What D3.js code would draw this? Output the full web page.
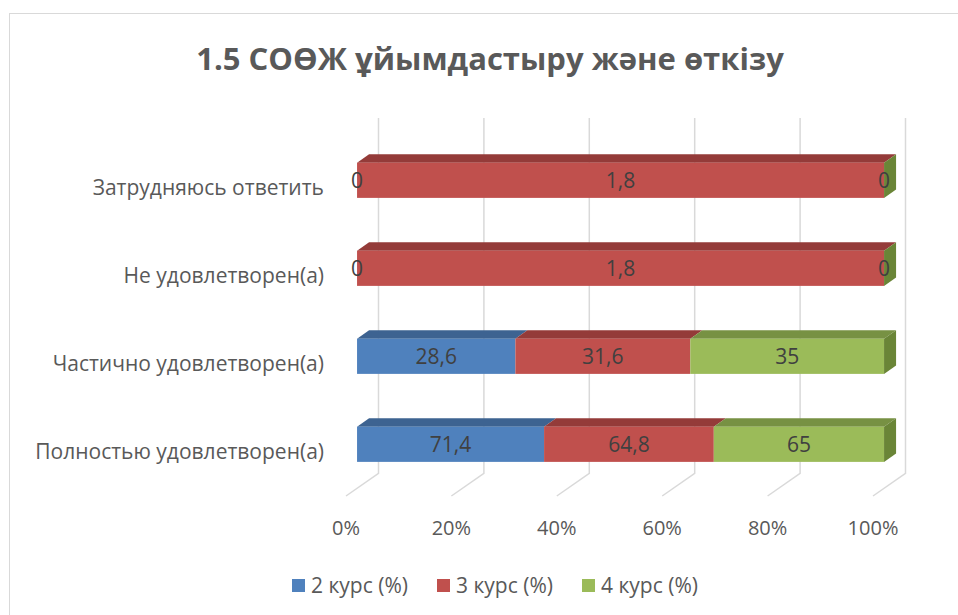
<!DOCTYPE html>
<html>
<head>
<meta charset="utf-8">
<script src="https://cdn.jsdelivr.net/npm/d3@7"></script>
<style>
  body { margin: 0; background: #fff; }
  text { font-family: "Open Sans", "Noto Sans", sans-serif; }
</style>
</head>
<body>
<div id="chart"></div>
<script>
// chart data
const categories = ['Затрудняюсь ответить', 'Не удовлетворен(а)', 'Частично удовлетворен(а)', 'Полностью удовлетворен(а)'];
const seriesNames = ['2 курс (%)', '3 курс (%)', '4 курс (%)'];
const course2 = [0, 0, 28.6, 71.4];
const course3 = [1.8, 1.8, 31.6, 64.8];
const course4 = [0, 0, 35, 65];
const tickValues = [0, 0.2, 0.4, 0.6, 0.8, 1];

const width = 958;
const height = 615;

// colours: front, top, side
const colors = [
    {front: '#4F81BD', top: '#3D6391', side: '#365A86'},
    {front: '#C0504D', top: '#943B39', side: '#8A3836'},
    {front: '#9BBB59', top: '#779143', side: '#6A8537'}
];

// depth of the 3d box (front floor -> back wall)
const DX = 32.5;
const DY = -22.7;
const t0 = 0.34, t1 = 0.71;

const svg = d3.select('#chart')
    .append('svg')
    .attr('width', width)
    .attr('height', height);

// chart border
svg.append('rect')
    .attr('x', 9.5).attr('y', 13.5)
    .attr('width', 960).attr('height', 610)
    .attr('fill', 'none')
    .attr('stroke', '#D9D9D9');

// title
svg.append('text')
    .attr('x', 490).attr('y', 70)
    .attr('text-anchor', 'middle')
    .attr('font-size', '31px')
    .attr('font-weight', 'bold')
    .attr('fill', '#595959')
    .text('1.5 СОӨЖ ұйымдастыру және өткізу');

const xScale = d3.scaleLinear()
    .domain([0, 1])
    .range([346, 873]);

const yScale = d3.scaleBand()
    .domain(categories)
    .range([144, 496])
    .paddingInner(0.6)
    .paddingOuter(0.3);

const floorY = 496;
const wallTop = 118;

// gridlines: back wall + floor
const grid = svg.append('g');
tickValues.forEach(function(v) {
    const px = xScale(v);
    grid.append('path')
        .attr('d', `M${px + DX},${wallTop} L${px + DX},${floorY + DY} L${px},${floorY}`)
        .attr('fill', 'none')
        .attr('stroke', '#D9D9D9')
        .attr('stroke-width', 1.5);
});

// tick labels
svg.selectAll('.tick-label')
    .data(tickValues)
    .enter()
    .append('text')
    .attr('class', 'tick-label')
    .attr('x', (d) => xScale(d))
    .attr('y', 535)
    .attr('text-anchor', 'middle')
    .attr('font-size', '20px')
    .attr('fill', '#595959')
    .text(d3.format('.0%'));

// category labels
svg.selectAll('.cat-label')
    .data(categories)
    .enter()
    .append('text')
    .attr('class', 'cat-label')
    .attr('x', 324)
    .attr('y', (d) => yScale(d) + yScale.bandwidth() / 2)
    .attr('dy', '0.35em')
    .attr('text-anchor', 'end')
    .attr('font-size', '21px')
    .attr('fill', '#595959')
    .text((d) => d);

// stacked (100%) data
const rows = categories.map(function(c, i) {
    return {cat: c, vals: [course2[i], course3[i], course4[i]]};
});

const bars = svg.append('g');
const barLabels = [];

rows.forEach(function(r) {
    const total = d3.sum(r.vals);
    let acc = 0;
    const yTop = yScale(r.cat);
    const bh = yScale.bandwidth();
    const fx = DX * t0, fy = DY * t0;
    const bx = DX * t1, by = DY * t1;
    r.vals.forEach(function(v, s) {
        const x0 = xScale(acc / total);
        acc += v;
        const x1 = xScale(acc / total);
        const c = colors[s];
        const top = yTop + fy;
        // top face
        bars.append('path')
            .attr('d', `M${x0 + fx},${top} L${x0 + bx},${yTop + by} L${x1 + bx},${yTop + by} L${x1 + fx},${top} Z`)
            .attr('fill', c.top);
        // front face
        bars.append('rect')
            .attr('x', x0 + fx)
            .attr('y', top)
            .attr('width', x1 - x0)
            .attr('height', bh)
            .attr('fill', c.front);
        // side face of the last segment
        if (s === r.vals.length - 1) {
            bars.append('path')
                .attr('d', `M${x1 + fx},${top} L${x1 + bx},${yTop + by} L${x1 + bx},${yTop + by + bh} L${x1 + fx},${top + bh} Z`)
                .attr('fill', c.side);
        }
        barLabels.push({x: (x0 + x1) / 2 + fx, y: top + bh / 2, v: v});
    });
});

// data labels
svg.selectAll('.val-label')
    .data(barLabels)
    .enter()
    .append('text')
    .attr('class', 'val-label')
    .attr('x', (d) => d.x)
    .attr('y', (d) => d.y)
    .attr('dy', '0.35em')
    .attr('text-anchor', 'middle')
    .attr('font-size', '21px')
    .attr('fill', '#404040')
    .text((d) => String(d.v).replace('.', ','));

// legend
const legend = svg.append('g');
seriesNames.forEach(function(name, i) {
    const lx = 292 + i * 145;
    legend.append('rect')
        .attr('x', lx).attr('y', 579)
        .attr('width', 13).attr('height', 13)
        .attr('fill', colors[i].front);
    legend.append('text')
        .attr('x', lx + 19).attr('y', 586)
        .attr('dy', '0.35em')
        .attr('font-size', '21px')
        .attr('fill', '#595959')
        .text(name);
});
</script>
</body>
</html>
